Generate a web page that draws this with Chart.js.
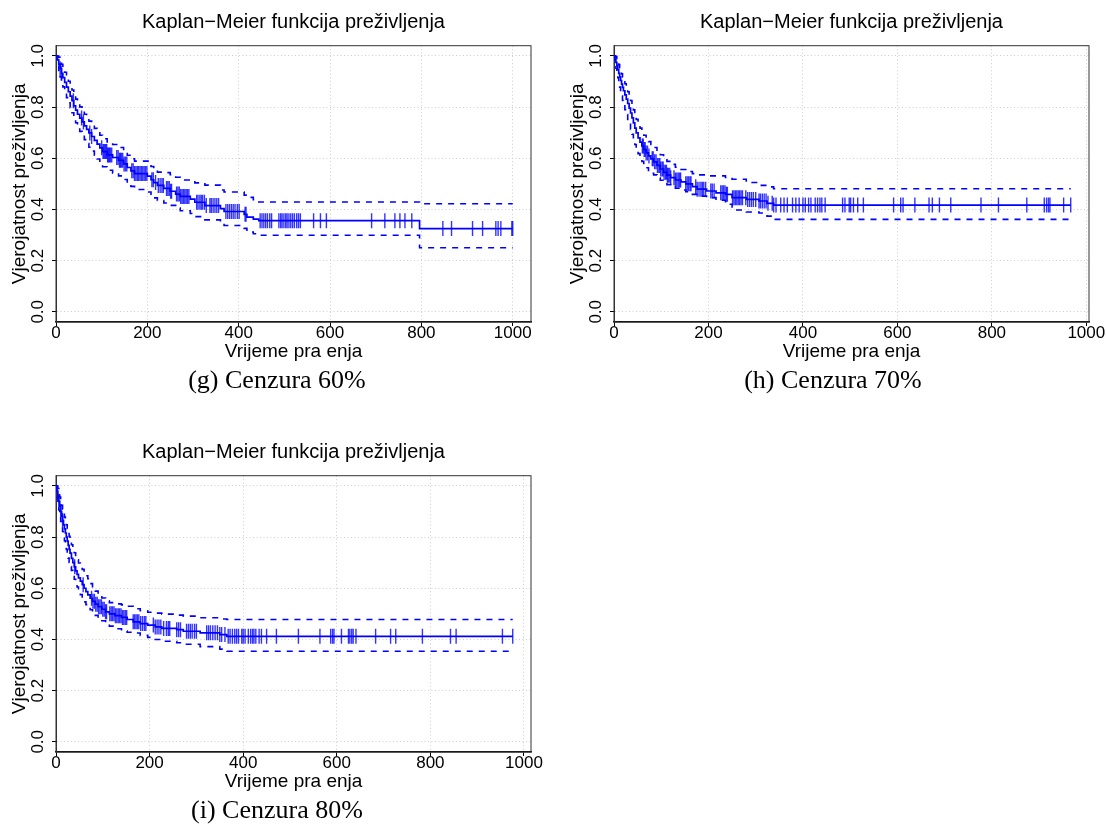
<!DOCTYPE html>
<html>
<head>
<meta charset="utf-8">
<title>Kaplan-Meier funkcija preživljenja</title>
<script src="https://cdn.jsdelivr.net/npm/chart.js@4.4.0/dist/chart.umd.min.js"></script>
<style>
  body { margin: 0; background: #fff; }
  #page { position: relative; width: 1106px; height: 825px; overflow: hidden; }
  canvas { position: absolute; }
  .cap { position: absolute; width: 300px; text-align: center; font: 26px/30px "Liberation Serif", serif; color: #000; white-space: pre; }
</style>
</head>
<body>
<div id="page">
  <canvas id="chartG" width="560" height="372" style="left:0;top:0"></canvas>
  <canvas id="chartH" width="548" height="372" style="left:558px;top:0"></canvas>
  <canvas id="chartI" width="560" height="372" style="left:0;top:430px"></canvas>
  <div class="cap" style="left:127px;top:365px">(g) Cenzura 60%</div>
  <div class="cap" style="left:683px;top:365px">(h) Cenzura 70%</div>
  <div class="cap" style="left:127px;top:795px">(i) Cenzura 80%</div>
</div>
<script>
const X_TICKS = [0, 200, 400, 600, 800, 1000];
const Y_TICKS = [0, 0.2, 0.4, 0.6, 0.8, 1.0];
const TITLE = 'Kaplan\u2212Meier funkcija preživljenja';
const X_LABEL = 'Vrijeme pra enja';
const Y_LABEL = 'Vjerojatnost preživljenja';

// (g) Cenzura 60%
const G_TIME = [0, 3, 6, 9, 12, 15, 19, 23, 27, 31, 35, 39, 43, 47, 52, 57, 62, 67, 72, 78, 84, 90, 96, 102,
  112, 124, 137, 148, 156, 164, 172, 200, 208, 214, 222, 236, 250, 262, 272, 294, 304, 326, 360, 368, 412, 418, 432, 444, 796];
const G_SURV = [1, .985, .968, .95, .932, .915, .897, .878, .86, .843, .825, .805, .788, .772, .757, .742, .727, .713, .699, .685, .67, .655, .641, .626,
  .613, .603, .592, .578, .564, .551, .54, .53, .516, .505, .494, .482, .471, .46, .451, .44, .428, .415, .403, .392, .381, .37, .362, .356, .325];
const G_UPPER = [1, 1, .995, .982, .967, .952, .936, .918, .901, .885, .867, .848, .831, .816, .801, .787, .772, .758, .745, .731, .717, .703, .69, .676,
  .664, .654, .642, .626, .612, .598, .589, .589, .568, .557, .546, .544, .536, .526, .515, .511, .504, .495, .476, .468, .456, .447, .438, .429, .422];
const G_LOWER = [1, .965, .94, .918, .898, .879, .858, .837, .817, .798, .778, .757, .739, .722, .705, .689, .673, .658, .643, .628, .612, .597, .582, .567,
  .553, .542, .531, .517, .503, .49, .478, .468, .456, .445, .435, .425, .416, .405, .395, .384, .372, .359, .348, .337, .326, .312, .305, .299, .25];
const G_CENSOR = [9, 12, 38, 56, 60, 74, 78, 100, 103, 105, 107, 109, 111, 113, 115, 117, 119, 122, 133, 136, 139, 141, 143, 146, 149, 152, 155,
  166, 169, 172, 175, 178, 181, 184, 187, 190, 193, 196, 199, 210, 213, 218, 224, 228, 232, 235, 242, 245, 248, 251, 253,
  264, 267, 270, 273, 276, 279, 282, 285, 288, 291, 308, 311, 315, 318, 321, 325, 329, 337, 340, 344, 348, 352, 356,
  372, 376, 380, 384, 388, 392, 397, 401, 414, 416, 447, 451, 455, 459, 463, 468, 472, 488, 492, 495, 499, 503, 506, 510,
  514, 518, 522, 527, 531, 535, 564, 579, 592, 691, 720, 742, 753, 764, 779, 847, 866, 912, 934, 963, 968, 974, 998, 1000];

// (h) Cenzura 70%
const H_TIME = [0, 2, 4, 6, 8, 10, 12, 14, 16, 18, 20, 23, 26, 29, 32, 35, 38, 41, 44, 47, 51, 55, 59, 63, 68, 73, 78, 84, 91, 98,
  105, 112, 120, 130, 142, 152, 166, 176, 196, 216, 236, 250, 280, 307, 324, 338];
const H_SURV = [1, .988, .975, .962, .947, .932, .918, .904, .89, .877, .864, .848, .831, .814, .796, .777, .758, .738, .718, .699,
  .68, .663, .648, .634, .621, .609, .598, .586, .572, .558, .545, .534, .524, .515, .508, .5, .489, .479, .472, .465,
  .459, .446, .439, .433, .424, .417];
const H_UPPER = [1, 1, .998, .99, .978, .966, .954, .942, .93, .918, .906, .891, .876, .86, .844, .826, .808, .789, .77, .752,
  .734, .718, .703, .69, .677, .665, .654, .642, .628, .614, .6, .588, .576, .565, .556, .548, .54, .535, .531, .531,
  .525, .518, .505, .494, .488, .481];
const H_LOWER = [1, .97, .952, .934, .915, .896, .878, .86, .843, .826, .809, .79, .771, .752, .733, .713, .694, .674, .654, .636,
  .618, .602, .588, .575, .563, .552, .541, .535, .524, .514, .505, .497, .49, .483, .476, .469, .459, .452, .446, .436,
  .42, .398, .39, .386, .374, .361];
const H_CENSOR = [60, 62, 64, 66, 68, 71, 74, 81, 83, 86, 89, 92, 95, 97, 99, 102, 104, 106, 109, 111, 113, 115, 118, 120,
  127, 130, 133, 136, 139, 141, 152, 155, 158, 161, 163, 173, 176, 180, 184, 187, 190, 194, 205, 208, 212,
  226, 229, 232, 235, 238, 240, 251, 254, 257, 260, 263, 266, 269, 272, 279, 283, 287, 291, 295, 300,
  307, 310, 314, 318, 322, 326, 335, 338, 343, 353, 360, 367, 378, 385, 392, 400, 405, 412, 417, 426, 431, 436, 440, 447,
  484, 489, 498, 501, 507, 516, 528, 592, 607, 612, 637, 667, 674, 689, 713, 777, 814, 874, 911, 916, 920, 923, 952, 967];

// (i) Cenzura 80%
const I_TIME = [0, 2, 4, 6, 8, 10, 12, 14, 16, 18, 20, 22, 24, 26, 28, 30, 33, 36, 39, 42, 45, 48, 52, 56, 60, 64, 68, 73, 78, 84,
  90, 98, 106, 114, 126, 140, 152, 165, 180, 196, 212, 226, 258, 272, 308, 350, 365];
const I_SURV = [1, .98, .96, .94, .92, .9, .882, .865, .848, .832, .816, .8, .784, .768, .752, .737, .717, .7, .684, .668,
  .654, .641, .628, .614, .6, .587, .574, .561, .549, .538, .528, .518, .508, .5, .493, .486, .478, .469, .462, .456,
  .449, .443, .438, .432, .426, .419, .412];
const I_UPPER = [1, 1, .99, .974, .957, .94, .924, .909, .893, .878, .863, .848, .833, .818, .803, .789, .77, .754, .739, .724,
  .711, .699, .687, .674, .661, .649, .637, .618, .603, .589, .576, .562, .551, .544, .539, .535, .53, .52, .512, .506,
  .503, .499, .495, .491, .485, .48, .478];
const I_LOWER = [1, .955, .93, .906, .883, .861, .841, .822, .804, .786, .769, .752, .735, .718, .701, .685, .67, .652, .635, .62,
  .605, .59, .575, .561, .547, .536, .526, .516, .505, .494, .484, .473, .463, .452, .442, .433, .428, .425, .416, .408,
  .4, .393, .387, .381, .372, .362, .354];
const I_CENSOR = [6, 10, 14, 40, 58, 76, 79, 82, 85, 88, 91, 94, 97, 100, 103, 106, 108, 115, 118, 121, 124, 127, 130, 133, 136,
  139, 142, 145, 148, 151, 165, 168, 171, 174, 177, 181, 185, 189, 192, 208, 212, 216, 220, 224, 230, 236, 240, 243,
  258, 262, 266, 279, 283, 287, 291, 296, 300, 322, 326, 330, 335, 340, 345, 350, 354, 361, 368, 372, 377, 382, 386,
  390, 397, 400, 404, 411, 416, 420, 423, 427, 434, 439, 450, 471, 518, 564, 587, 591, 594, 610, 625, 628, 632, 635,
  641, 683, 715, 726, 783, 843, 855, 954, 976];

Chart.defaults.font.family = '"Liberation Sans", Arial, sans-serif';
Chart.defaults.color = '#000';

const BLUE = '#0000ff';

// step points for a KM curve, held flat up to the last observation
function steps(time, vals, end) {
  const pts = time.map((t, i) => ({ x: t, y: vals[i] }));
  pts.push({ x: end, y: vals[vals.length - 1] });
  return pts;
}

function survAt(time, surv, t) {
  let s = surv[0];
  for (let i = 0; i < time.length && time[i] <= t; i++) s = surv[i];
  return s;
}

const frame = {
  id: 'frame',
  beforeDatasetsDraw(chart) {
    const { ctx, chartArea: a } = chart;
    ctx.save();
    ctx.strokeStyle = '#333';
    ctx.lineWidth = 1;
    ctx.strokeRect(a.left, a.top, a.right - a.left, a.bottom - a.top);
    ctx.restore();
  }
};

function kmChart(canvasId, time, surv, upper, lower, censor, padRight) {
  const end = Math.max(...time, ...censor);
  const band = vals => ({
    data: steps(time, vals, end),
    borderColor: BLUE,
    borderWidth: 1.6,
    borderDash: [6, 6],
    stepped: 'before',
    pointRadius: 0,
    fill: false
  });
  const grid = { color: '#cccccc', lineWidth: 1, tickLength: 4, tickColor: '#000', tickWidth: 1 };

  new Chart(document.getElementById(canvasId), {
    type: 'line',
    data: {
      datasets: [
        { data: steps(time, surv, end), borderColor: BLUE, borderWidth: 1.7, stepped: 'before', pointRadius: 0, fill: false },
        band(upper),
        band(lower),
        {
          type: 'scatter',
          data: censor.map(t => ({ x: t, y: survAt(time, surv, t) })),
          pointStyle: 'line',
          pointRotation: 90,
          pointRadius: 7.5,
          pointBorderColor: 'rgba(0, 0, 255, 0.8)',
          pointBorderWidth: 1.4,
          pointBackgroundColor: 'transparent'
        }
      ]
    },
    options: {
      responsive: false,
      animation: false,
      devicePixelRatio: 1,
      events: [],
      layout: { padding: { left: 0, right: padRight, top: 0, bottom: 0 } },
      plugins: {
        legend: { display: false },
        tooltip: { enabled: false },
        title: {
          display: true, text: TITLE, fullSize: false, color: '#000',
          font: { size: 20, weight: 'normal' },
          padding: { top: 10.5, bottom: 11.2 }
        }
      },
      scales: {
        x: {
          type: 'linear', min: 0, max: end * 1.04,
          afterBuildTicks: s => { s.ticks = X_TICKS.map(v => ({ value: v })); },
          afterFit: s => { s.height = 50; },
          grid: grid,
          border: { color: '#000', width: 1.5, dash: [1, 2.5] },
          ticks: { font: { size: 17 }, color: '#000', padding: -2.5, maxRotation: 0, autoSkip: false, callback: v => String(v) },
          title: { display: true, text: X_LABEL, color: '#000', font: { size: 19 }, padding: { top: 0, bottom: 8.6 } }
        },
        y: {
          type: 'linear', min: -0.04, max: 1.04,
          afterBuildTicks: s => { s.ticks = Y_TICKS.map(v => ({ value: v })); },
          afterFit: s => { s.width = 56; },
          grid: grid,
          border: { color: '#333', width: 1, dash: [1, 2.5] },
          ticks: { font: { size: 17 }, color: '#000', padding: 2.2, minRotation: 90, maxRotation: 90, crossAlign: 'center',
            callback: v => Number(v).toFixed(1) },
          title: { display: true, text: Y_LABEL, color: '#000', font: { size: 19 }, padding: { top: 7.9, bottom: 0 } }
        }
      }
    },
    plugins: [frame]
  });
}

kmChart('chartG', G_TIME, G_SURV, G_UPPER, G_LOWER, G_CENSOR, 29);
kmChart('chartH', H_TIME, H_SURV, H_UPPER, H_LOWER, H_CENSOR, 17);
kmChart('chartI', I_TIME, I_SURV, I_UPPER, I_LOWER, I_CENSOR, 29);
</script>
</body>
</html>
